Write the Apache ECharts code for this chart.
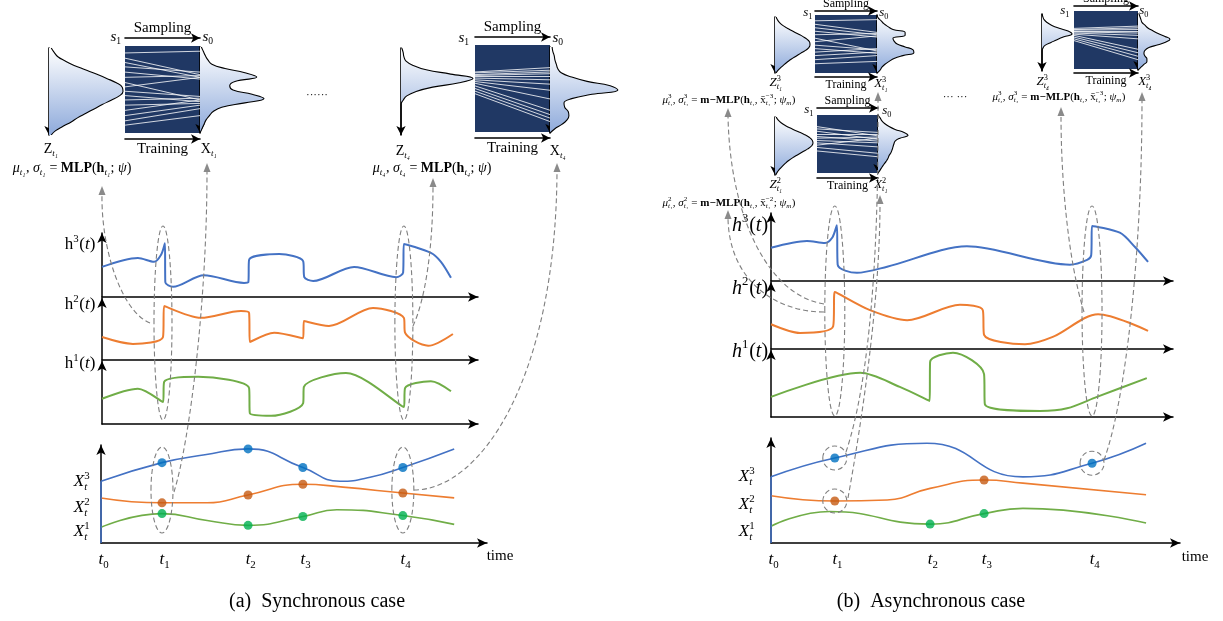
<!DOCTYPE html>
<html><head><meta charset="utf-8">
<script src="https://cdn.jsdelivr.net/npm/echarts@6/dist/echarts.min.js"></script>
<style>html,body{margin:0;padding:0;background:#fff}#c{width:1223px;height:621px}</style>
</head><body><div id="c"></div>
<script>
// ================= DATA =================
const tickNames = ['0','1','2','3','4'];
const ticksA = [0, 15.8, 38.1, 52.3, 78.2];
const ticksB = [0, 15.6, 38.9, 52.1, 78.5];

// Panel (a): hidden states [time, value]
const hA3 = [[0,4.7],[9.3,6.1],[13.5,5.5],[15.3,6.6],[16.3,8.4],[16.4,2.3],[18.4,1.6],[26.4,3.4],[36.8,2.2],[37.9,2.3],[38.1,5.8],[45.9,6.7],[52.1,5.6],[52.4,3.1],[54.7,2.5],[65.3,4.7],[76.2,3.1],[78.0,3.8],[78.2,8.3],[85.2,6.9],[87.8,5.5],[90.4,3.0]];
const hA2 = [[0,3.7],[8.0,2.6],[15.8,3.7],[16.1,8.7],[25.6,6.8],[36.0,7.9],[38.1,7.6],[38.3,2.9],[44.6,4.4],[52.1,3.5],[52.3,6.3],[58.8,5.5],[70.2,8.4],[78.2,6.8],[78.5,4.4],[84.5,2.3],[90.9,4.2]];
const hA1 = [[0,4.0],[9.3,5.6],[15.8,3.5],[16.1,6.7],[24.9,7.5],[38.1,5.7],[38.3,1.7],[43.8,1.3],[52.1,3.3],[52.3,5.9],[63.2,8.1],[78.2,2.7],[78.5,5.7],[85.2,6.8],[90.4,5.2]];
// Panel (a): observed series
const xA3 = [[0,6.3],[15.8,8.2],[26.9,9.0],[38.1,9.6],[52.3,7.7],[61.9,6.3],[69.7,6.7],[78.2,7.7],[91.5,9.6]];
const xA2 = [[0,4.6],[15.8,4.1],[27.5,4.1],[38.1,4.9],[52.3,6.0],[62.7,5.7],[78.2,5.1],[91.5,4.6]];
const xA1 = [[0,1.6],[15.8,3.0],[27.5,2.3],[38.1,1.8],[52.3,2.7],[61.1,3.4],[78.2,2.8],[91.5,1.9]];
const obsA3 = [1,2,3,4], obsA2 = [1,2,3,4], obsA1 = [1,2,3,4];

// Panel (b): hidden states
const hB3 = [[0,4.9],[8.8,5.9],[13.2,5.6],[15.0,6.4],[16.1,8.2],[16.3,2.4],[21.0,1.2],[28.4,2.1],[47.9,5.1],[73.1,2.4],[77.3,3.1],[78.3,3.8],[78.5,8.1],[85.3,7.1],[89.0,5.0],[92.2,2.8]];
const hB2 = [[0,3.7],[7.1,2.4],[15.2,3.4],[15.6,8.5],[24.2,5.8],[33.3,4.3],[46.2,6.6],[51.8,5.8],[52.1,2.1],[62.1,0.7],[68.9,1.8],[80.0,5.2],[92.2,2.7]];
const hB1 = [[0,3.0],[21.8,6.6],[31.5,4.5],[38.8,2.4],[38.9,8.2],[44.5,9.6],[52.1,6.4],[52.3,1.9],[65.8,0.9],[72.4,1.3],[79.7,3.0],[91.9,5.8]];
// Panel (b): observed series
const xB3 = [[0,6.3],[15.6,8.1],[38.1,9.5],[61.6,6.3],[78.5,7.6],[91.7,9.5]];
const xB2 = [[0,4.5],[15.6,4.0],[28.4,4.1],[38.9,5.2],[52.1,6.0],[61.6,5.7],[91.7,4.6]];
const xB1 = [[0,1.6],[14.4,3.0],[38.9,1.8],[52.1,2.8],[61.6,3.3],[91.7,1.9]];
const obsB3 = [1,4], obsB2 = [1,3], obsB1 = [2,3];

// Densities (relative width, top -> bottom)
const densZa1 = [0.03,0.07,0.12,0.22,0.34,0.49,0.64,0.78,0.91,0.99,1,0.95,0.84,0.72,0.61,0.5,0.39,0.3,0.19,0.09,0.03];
const densXa1 = [0.02,0.05,0.08,0.12,0.18,0.38,0.68,0.86,0.53,0.45,0.5,0.79,0.97,0.68,0.33,0.2,0.14,0.09,0.06,0.03,0];
const densZa4 = [0.01,0.03,0.04,0.07,0.17,0.35,0.69,1,0.81,0.44,0.21,0.08,0.03,0,0,0,0,0,0,0,0];
const densXa4 = [0.03,0.04,0.06,0.07,0.09,0.11,0.16,0.31,0.53,0.86,0.97,0.6,0.31,0.2,0.21,0.26,0.27,0.24,0.17,0.07,0];
const densZb13 = [0.03,0.07,0.13,0.22,0.35,0.5,0.65,0.8,0.92,0.99,1,0.96,0.86,0.73,0.6,0.47,0.36,0.26,0.17,0.09,0.03];
const densXb13 = [0,0.03,0.11,0.18,0.29,0.42,0.74,0.74,0.42,0.45,0.53,0.74,0.95,0.97,0.68,0.45,0.32,0.21,0.13,0.08,0];
const densZb12 = [0.03,0.08,0.16,0.28,0.43,0.6,0.77,0.9,0.98,1,0.96,0.86,0.73,0.6,0.47,0.36,0.27,0.19,0.12,0.06,0.02];
const densXb12 = [0,0.07,0.13,0.23,0.37,0.57,0.87,1,0.73,0.57,0.53,0.5,0.47,0.43,0.37,0.33,0.27,0.2,0.13,0.07,0];
const densZb43 = [0,0.03,0.07,0.17,0.33,0.57,0.87,1,0.73,0.5,0.3,0.1,0.03,0,0,0,0,0,0,0,0];
const densXb43 = [0.03,0.06,0.09,0.12,0.21,0.3,0.45,0.61,0.82,0.97,0.85,0.61,0.33,0.21,0.18,0.21,0.27,0.27,0.18,0.09,0];

// Sampling boxes: white lines from s1 (left) to s0 (right), 0 = top, 1 = bottom
const boxA1L = [0.08,0.14,0.19,0.24,0.30,0.36,0.42,0.47,0.52,0.57,0.62,0.68,0.74,0.80,0.86,0.91];
const boxA1R = [0.06,0.33,0.36,0.30,0.38,0.34,0.62,0.36,0.58,0.64,0.60,0.66,0.62,0.68,0.72,0.80];
const boxA4L = [0.31,0.32,0.34,0.35,0.36,0.38,0.40,0.42,0.44,0.47,0.50,0.53,0.56];
const boxA4R = [0.26,0.29,0.31,0.33,0.36,0.40,0.45,0.52,0.62,0.75,0.80,0.84,0.88];
const boxB13L = [0.10,0.16,0.22,0.28,0.34,0.40,0.46,0.52,0.58,0.64,0.70,0.77,0.84];
const boxB13R = [0.08,0.30,0.34,0.38,0.32,0.62,0.36,0.60,0.66,0.58,0.64,0.70,0.80];
const boxB12L = [0.20,0.24,0.28,0.33,0.37,0.40,0.44,0.48,0.52,0.56,0.62];
const boxB12R = [0.36,0.30,0.42,0.33,0.45,0.38,0.48,0.55,0.40,0.66,0.72];
const boxB43L = [0.30,0.32,0.33,0.35,0.36,0.38,0.40,0.42,0.45,0.48,0.51];
const boxB43R = [0.26,0.29,0.32,0.35,0.38,0.42,0.48,0.66,0.72,0.78,0.84];

// ================= STYLE =================
const SERIF = "'Liberation Serif','Times New Roman',serif";
const BLUE='#4472c4', ORANGE='#ed7d31', GREEN='#70ad47';
const DBLUE='#0070c0', DORANGE='#c55a11', DGREEN='#00b050';
const AX = {color:'#000', width:1.5};
const GRAD = new echarts.graphic.LinearGradient(0,0,0,1,[{offset:0,color:'#ffffff'},{offset:1,color:'#8eaadb'}]);
const SUBD = ['₀','₁','₂','₃','₄'];

const grids=[], xAxis=[], yAxis=[], series=[];
function noAxisBits(o){ return Object.assign({axisTick:{show:false}, axisLabel:{show:false}, splitLine:{show:false}}, o); }

function mainPlot(rect, xMax, lines){
  const gi=grids.length, xi=xAxis.length, yi=yAxis.length;
  grids.push({left:rect[0], top:rect[1], width:rect[2], height:rect[3], outerBoundsMode:'none'});
  xAxis.push(noAxisBits({gridIndex:gi, type:'value', min:0, max:xMax, axisLine:{show:true, onZero:false, symbol:['none','arrow'], symbolSize:[7,10], lineStyle:AX}}));
  yAxis.push(noAxisBits({gridIndex:gi, type:'value', min:0, max:10, axisLine:{show:true, onZero:false, symbol:['none','arrow'], symbolSize:[7,10], lineStyle:AX}}));
  lines.forEach(l=>series.push({type:'line', xAxisIndex:xi, yAxisIndex:yi, data:l.data, smooth:l.s===undefined?0.3:l.s, showSymbol:false, lineStyle:{color:l.color, width:l.w}, silent:true, z:l.z||3}));
  return {gi, xi, yi};
}
function lookup(arr, t){
  for(let i=0;i<arr.length-1;i++){ const a=arr[i], b=arr[i+1];
    if(t>=a[0] && t<=b[0] && b[0]>a[0]){ const f=(t-a[0])/(b[0]-a[0]); return a[1]+f*(b[1]-a[1]); } }
  return arr[arr.length-1][1];
}
function dots(p, line, ticks, idx, color){
  series.push({type:'scatter', xAxisIndex:p.xi, yAxisIndex:p.yi, symbolSize:9, itemStyle:{color}, silent:true, z:5,
    data: idx.map(i=>[ticks[i], lookup(line, ticks[i])])});
}
function density(rect, vals){
  const gi=grids.length, xi=xAxis.length, yi=yAxis.length;
  grids.push({left:rect[0], top:rect[1], width:rect[2], height:rect[3], outerBoundsMode:'none'});
  xAxis.push({gridIndex:gi, type:'value', min:0, max:1, show:false});
  yAxis.push(noAxisBits({gridIndex:gi, type:'category', inverse:true, boundaryGap:false, data:vals.map((_,i)=>i),
    axisLine:{show:true, onZero:false, symbol:['arrow','none'], symbolSize:[7,9], lineStyle:{color:'#000', width:1.6}}}));
  series.push({type:'line', xAxisIndex:xi, yAxisIndex:yi, data:vals, smooth:0.45, showSymbol:false,
    lineStyle:{color:'#000', width:1.1}, areaStyle:{color:GRAD, opacity:1}, silent:true, z:2});
}
function box(rect, L, R, offTop, offBot, fs, gapT, gapB){
  const gi=grids.length, xi=xAxis.length, yi=yAxis.length;
  grids.push({left:rect[0], top:rect[1], width:rect[2], height:rect[3], show:true, backgroundColor:'#203864', borderWidth:0, outerBoundsMode:'none'});
  const nts = {fontFamily:SERIF, fontSize:fs, color:'#000'};
  xAxis.push(noAxisBits({gridIndex:gi, type:'value', min:0, max:1, position:'top', offset:offTop,
    axisLine:{show:true, onZero:false, symbol:['none','arrow'], symbolSize:[7,9], lineStyle:{color:'#000', width:1.6}},
    name:'Sampling', nameLocation:'middle', nameGap:gapT, nameTextStyle:nts}));
  xAxis.push(noAxisBits({gridIndex:gi, type:'value', min:0, max:1, position:'bottom', offset:offBot, inverse:true,
    axisLine:{show:true, onZero:false, symbol:['none','arrow'], symbolSize:[7,9], lineStyle:{color:'#000', width:1.6}},
    name:'Training', nameLocation:'middle', nameGap:gapB, nameTextStyle:nts}));
  yAxis.push({gridIndex:gi, type:'value', min:0, max:1, inverse:true, show:false});
  series.push({type:'lines', coordinateSystem:'cartesian2d', xAxisIndex:xi, yAxisIndex:yi, silent:true, z:2,
    lineStyle:{color:'#ffffff', width:1, opacity:0.8},
    data: L.map((l,i)=>({coords:[[0,l],[1,R[i]]]}))});
}
// vertical drop of the X^3 curve onto the origin of the time axis
const drop = line => [[line[0][0],0], line[0]];

// ---- Panel (a) ----
const pA3 = mainPlot([102,233,376,64], 97.4, [{data:hA3, color:BLUE, w:2}]);
const pA2 = mainPlot([102,298,376,62], 97.4, [{data:hA2, color:ORANGE, w:2}]);
const pA1 = mainPlot([102,361,376,63], 97.4, [{data:hA1, color:GREEN, w:2}]);
const pAX = mainPlot([101,445,386,98], 100, [{data:drop(xA3),color:BLUE,w:1.6,s:0,z:4},{data:xA3,color:BLUE,w:1.6,s:0.5},{data:xA2,color:ORANGE,w:1.6,s:0.5},{data:xA1,color:GREEN,w:1.6,s:0.5}]);
dots(pAX, xA3, ticksA, obsA3, DBLUE); dots(pAX, xA2, ticksA, obsA2, DORANGE); dots(pAX, xA1, ticksA, obsA1, DGREEN);
density([49,48,74,87], densZa1);
box([125,46,75,87], boxA1L, boxA1R, 8, 6, 15, 2, 3);
density([200,47,66,86], densXa1);
density([401,48,72,87], densZa4);
box([475,45,75,87], boxA4L, boxA4R, 8, 6, 15, 2, 3);
density([550,47,70,86], densXa4);

// ---- Panel (b) ----
const pB3 = mainPlot([771,213,402,68], 98.3, [{data:hB3, color:BLUE, w:2}]);
const pB2 = mainPlot([771,282,402,67], 98.3, [{data:hB2, color:ORANGE, w:2}]);
const pB1 = mainPlot([771,350,402,67], 98.3, [{data:hB1, color:GREEN, w:2}]);
const pBX = mainPlot([771,438,409,105], 100, [{data:drop(xB3),color:BLUE,w:1.6,s:0,z:4},{data:xB3,color:BLUE,w:1.6,s:0.5},{data:xB2,color:ORANGE,w:1.6,s:0.5},{data:xB1,color:GREEN,w:1.6,s:0.5}]);
dots(pBX, xB3, ticksB, obsB3, DBLUE); dots(pBX, xB2, ticksB, obsB2, DORANGE); dots(pBX, xB1, ticksB, obsB1, DGREEN);
density([775,17,35,56], densZb13);
box([815,15,62,58], boxB13L, boxB13R, 4, 4, 12, 1, 2);
density([877,15,38,58], densXb13);
density([775,117,38,58], densZb12);
box([817,115,61,58], boxB12L, boxB12R, 7, 5, 12, 1, 2);
density([878,115,30,58], densXb12);
density([1042,14,30,57], densZb43);
box([1074,11,64,58], boxB43L, boxB43R, 5, 4, 12, 1, 2);
density([1138,14,33,56], densXb43);

const chart = echarts.init(document.getElementById('c'), null, {renderer:'canvas', width:1223, height:621});
chart.setOption({animation:false, backgroundColor:'#ffffff', grid:grids, xAxis, yAxis, series});

// ================= ANNOTATIONS =================
const mctx = document.createElement('canvas').getContext('2d');
function fnt(size, i, b){ return (i?'italic ':'')+(b?'bold ':'')+size+'px '+SERIF; }
function tw(s, size, i, b){ mctx.font = fnt(size,i,b); return mctx.measureText(s).width; }
const G = [];
function T(cx, cy, tokens, size, align){
  const items=[]; let x=0;
  tokens.forEach(tk=>{
    if(typeof tk==='string') tk={t:tk};
    if(tk.t!==undefined){ items.push({x, y:0, text:tk.t, size, i:tk.i, b:tk.b}); x+=tw(tk.t,size,tk.i,tk.b); }
    else { const s=size*0.64; let w=0;
      if(tk.sup!==undefined){ items.push({x, y:-size*0.36, text:tk.sup, size:s}); w=Math.max(w, tw(tk.sup,s)); }
      if(tk.sub!==undefined){ items.push({x, y:size*0.3, text:tk.sub, size:s, i:tk.bi}); w=Math.max(w, tw(tk.sub,s,tk.bi)); }
      x+=w+size*0.04; }
  });
  const x0 = align==='left'? cx : align==='right'? cx-x : cx-x/2;
  items.forEach(it=>G.push({type:'text', silent:true, z:10, x:x0+it.x, y:cy+it.y,
    style:{text:it.text, font:fnt(it.size,it.i,it.b), fill:'#000', textAlign:'left', textVerticalAlign:'middle', verticalAlign:'middle'}}));
}
const DASH = {stroke:'#7f7f7f', lineWidth:1.1, lineDash:[5,3], fill:'none'};
function curve(p0,c1,c2,p3){
  G.push({type:'bezierCurve', silent:true, z:8, shape:{x1:p0[0],y1:p0[1],cpx1:c1[0],cpy1:c1[1],cpx2:c2[0],cpy2:c2[1],x2:p3[0],y2:p3[1]}, style:Object.assign({},DASH)});
  G.push({type:'polygon', silent:true, z:8, shape:{points:[[p3[0],p3[1]-8],[p3[0]-3.5,p3[1]+1],[p3[0]+3.5,p3[1]+1]]}, style:{fill:'#8a8a8a'}});
}
function ell(cx,cy,rx,ry){ G.push({type:'ellipse', silent:true, z:8, shape:{cx,cy,rx,ry}, style:Object.assign({},DASH)}); }
const px = (p, x, y) => chart.convertToPixel({gridIndex:p.gi}, [x,y]);

// ---- (a) texts ----
T(116,37,[{t:'s',i:1},{sub:'1'}],15); T(208,37,[{t:'s',i:1},{sub:'0'}],15);
T(464,38,[{t:'s',i:1},{sub:'1'}],15); T(558,38,[{t:'s',i:1},{sub:'0'}],15);
T(51,149,['Z',{sub:'t'+SUBD[1],bi:1}],14); T(209,149,['X',{sub:'t'+SUBD[1],bi:1}],14);
T(403,151,['Z',{sub:'t'+SUBD[4],bi:1}],14); T(558,151,['X',{sub:'t'+SUBD[4],bi:1}],14);
const fA = k => [{t:'μ',i:1},{sub:'t'+SUBD[k],bi:1},', ',{t:'σ',i:1},{sub:'t'+SUBD[k],bi:1},' = ',{t:'MLP',b:1},'(',{t:'h',b:1},{sub:'t'+SUBD[k],bi:1},'; ',{t:'ψ',i:1},')'];
T(72,168,fA(1),14); T(432,168,fA(4),14);
T(317,95,['······'],11);
[['3',245],['2',305],['1',364]].forEach(([s,y])=>T(80,y,['h',{sup:s},'(',{t:'t',i:1},')'],17));
[['3',482],['2',508],['1',532]].forEach(([s,y])=>T(82,y,[{t:'X',i:1},{sup:s,sub:'t',bi:1}],17));
ticksA.forEach((t,i)=>{ const p=px(pAX,t,0); T(p[0]+3,560,[{t:'t',i:1},{sub:tickNames[i]}],17); });
T(500,556,['time'],15);
T(317,602,['(a)  Synchronous case'],20);

// ---- (b) texts ----
T(808,13,[{t:'s',i:1},{sub:'1'}],13); T(884,13,[{t:'s',i:1},{sub:'0'}],13);
T(809,110,[{t:'s',i:1},{sub:'1'}],13); T(887,111,[{t:'s',i:1},{sub:'0'}],13);
T(1065,11,[{t:'s',i:1},{sub:'1'}],13); T(1144,11,[{t:'s',i:1},{sub:'0'}],13);
T(776,83,[{t:'Z',i:1},{sup:'3',sub:'t'+SUBD[1],bi:1}],13); T(881,84,[{t:'X',i:1},{sup:'3',sub:'t'+SUBD[1],bi:1}],13);
T(776,185,[{t:'Z',i:1},{sup:'2',sub:'t'+SUBD[1],bi:1}],13); T(881,185,[{t:'X',i:1},{sup:'2',sub:'t'+SUBD[1],bi:1}],13);
T(1043,82,[{t:'Z',i:1},{sup:'3',sub:'t'+SUBD[4],bi:1}],13); T(1145,82,[{t:'X',i:1},{sup:'3',sub:'t'+SUBD[4],bi:1}],13);
const fB = (m,k) => [{t:'μ',i:1},{sup:m,sub:'t'+SUBD[k],bi:1},', ',{t:'σ',i:1},{sup:m,sub:'t'+SUBD[k],bi:1},' = ',{t:'m−MLP',b:1},'(',{t:'h',b:1},{sub:'t'+SUBD[k],bi:1},', ','x̄',{sup:'−'+m,sub:'t'+SUBD[k],bi:1},'; ',{t:'ψ',i:1},{sub:'m',bi:1},')'];
T(729,100,fB('3',1),11); T(729,203,fB('2',1),11); T(1059,97,fB('3',4),11);
T(955,97,['··· ···'],11);
[['3',226],['2',289],['1',352]].forEach(([s,y])=>T(750,y,[{t:'h',i:1},{sup:s},'(',{t:'t',i:1},')'],20));
[['3',477],['2',505],['1',532]].forEach(([s,y])=>T(747,y,[{t:'X',i:1},{sup:s,sub:'t',bi:1}],17));
ticksB.forEach((t,i)=>{ const p=px(pBX,t,0); T(p[0]+3,560,[{t:'t',i:1},{sub:tickNames[i]}],17); });
T(1195,557,['time'],15);
T(931,602,['(b)  Asynchronous case'],20);

// ---- dashed ellipses (anchored to the time ticks) ----
[ticksA[1], ticksA[4]].forEach(t=>{ const c=px(pA2,t,0); ell(c[0],323,9,97); const d=px(pAX,t,0); ell(d[0],490,11,43); });
[ticksB[1], ticksB[4]].forEach(t=>{ const c=px(pB2,t,0); ell(c[0],311,10,105); });
[[xB3,ticksB[1]],[xB2,ticksB[1]],[xB3,ticksB[4]]].forEach(([l,t])=>{ const c=px(pBX,t,lookup(l,t)); ell(c[0],c[1],12,12); });

// ---- dashed arrows ----
curve([150,323],[122,312],[101,250],[102,194]);
curve([174,492],[190,440],[207,300],[207,171]);
curve([413,326],[425,300],[433,250],[433,186]);
curve([414,490],[480,490],[556,380],[557,171]);
curve([824,304],[770,296],[730,220],[728,116]);
curve([824,312],[775,312],[729,280],[728,218]);
curve([846,452],[870,380],[879,250],[878,100]);
curve([848,498],[862,420],[880,300],[880,203]);
curve([1084,312],[1068,260],[1061,180],[1061,115]);
curve([1104,460],[1126,400],[1142,250],[1142,100]);

chart.setOption({graphic: G});
</script></body></html>
